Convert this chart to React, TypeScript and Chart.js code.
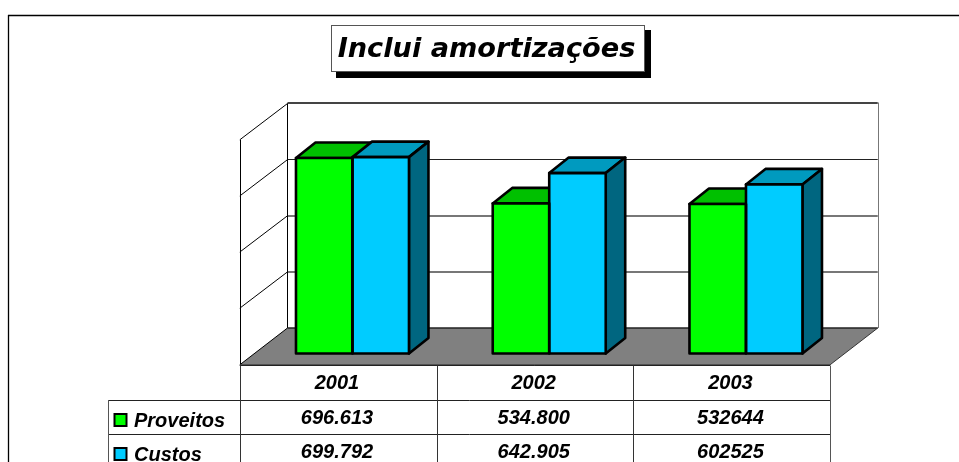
import React, { useEffect, useRef } from "react";
import { Chart, registerables } from "chart.js";

Chart.register(...registerables);

const TITLE = "Inclui amortizações";
const categories = ["2001", "2002", "2003"];
const proveitos = [696613, 534800, 532644];
const custos = [699792, 642905, 602525];
const proveitosLabels = ["696.613", "534.800", "532644"];
const custosLabels = ["699.792", "642.905", "602525"];
const seriesNames = ["Proveitos", "Custos"];

const W = 959;
const H = 462;
const BAR_FRONT = ["#00ff00", "#00ccff"];
const BAR_TOP = ["#00c000", "#009abf"];
const BAR_SIDE = ["#008000", "#006680"];

// 3D projection offsets, in px, relative to the plane the bars stand on
const BACK_DX = 33.4, BACK_DY = -25.5;
const FRONT_DX = -14.3, FRONT_DY = 11.3;
const BAR_DX = 19.5, BAR_DY = -15.5;
const BAR_LINE = 2.6;

const gridStyle: Record<number, [string, number]> = {
  800000: ["#444", 2],
  600000: ["#222", 1],
  400000: ["#777", 2],
  200000: ["#777", 2],
};

const poly = (c: CanvasRenderingContext2D, pts: number[][], fill?: string, stroke?: string, lw = 1) => {
  c.beginPath();
  pts.forEach(([x, y], i) => (i ? c.lineTo(x, y) : c.moveTo(x, y)));
  c.closePath();
  if (fill) { c.fillStyle = fill; c.fill(); }
  if (stroke) { c.strokeStyle = stroke; c.lineWidth = lw; c.stroke(); }
};
const line = (c: CanvasRenderingContext2D, x1: number, y1: number, x2: number, y2: number, col: string, lw = 1) => {
  c.beginPath();
  c.moveTo(x1, y1);
  c.lineTo(x2, y2);
  c.strokeStyle = col;
  c.lineWidth = lw;
  c.stroke();
};

const scenePlugin = {
  id: "scene3d",
  beforeDatasetsDraw(chart: any) {
    const c: CanvasRenderingContext2D = chart.ctx;
    const a = chart.chartArea;
    const ys = chart.scales.y;
    c.save();
    c.lineJoin = "round";
    // frame
    c.fillStyle = "#fff";
    c.fillRect(0, 0, W, H);
    line(c, 8.5, 15, 8.5, H, "#000", 1.3);
    line(c, 8, 15.5, W, 15.5, "#000", 1.4);

    const base = ys.getPixelForValue(0);
    const bl = a.left + BACK_DX, br = a.right + BACK_DX;
    const fl = a.left + FRONT_DX, fr = a.right + FRONT_DX;
    const backY = (v: number) => ys.getPixelForValue(v) + BACK_DY;
    const frontY = (v: number) => ys.getPixelForValue(v) + FRONT_DY;

    // walls & grid
    const top = ys.max;
    ys.ticks.forEach((t: any) => {
      if (t.value === 0) return;
      const [col, lw] = gridStyle[t.value] || ["#555", 1];
      const raw = backY(t.value);
      const yb = lw % 2 ? Math.floor(raw) + 0.5 : Math.round(raw - 0.1);
      line(c, bl, yb, br, yb, col, lw);
      line(c, fl, frontY(t.value) - 0.5, bl, raw, "#000", 1);
    });
    line(c, Math.floor(bl) + 0.5, backY(top), Math.floor(bl) + 0.5, backY(0), "#000");
    line(c, Math.round(br) + 0.5, backY(top) - 1, Math.round(br) + 0.5, backY(0), "#777");
    line(c, Math.round(fl) + 0.5, frontY(top) - 0.5, Math.round(fl) + 0.5, frontY(0), "#000");

    // floor
    poly(c, [[fl, frontY(0)], [fr, frontY(0)], [br, backY(0)], [bl, backY(0)]], "#808080");
    line(c, fl, frontY(0), bl, backY(0), "#000");
    line(c, bl, backY(0), br, backY(0), "#222", 1.5);
    line(c, fl, frontY(0), fr, frontY(0), "#333", 1);
    line(c, fr, frontY(0), br, backY(0), "#333", 1);

    // bar depth faces
    chart.data.datasets.forEach((_: any, d: number) => {
      chart.getDatasetMeta(d).data.forEach((b: any) => {
        const L = b.x - b.width / 2, R = b.x + b.width / 2;
        poly(c, [[L, b.y], [R, b.y], [R + BAR_DX, b.y + BAR_DY], [L + BAR_DX, b.y + BAR_DY]], BAR_TOP[d], "#000", BAR_LINE);
        if (d === chart.data.datasets.length - 1) {
          poly(c, [[R, b.y], [R + BAR_DX, b.y + BAR_DY], [R + BAR_DX, base + BAR_DY], [R, base]], BAR_SIDE[d], "#000", BAR_LINE);
        }
      });
    });
    c.restore();
  },
  afterDatasetsDraw(chart: any) {
    const c: CanvasRenderingContext2D = chart.ctx;
    const base = chart.scales.y.getPixelForValue(0);
    c.save();
    c.lineJoin = "round";
    chart.data.datasets.forEach((_: any, d: number) => {
      chart.getDatasetMeta(d).data.forEach((b: any) => {
        const L = b.x - b.width / 2, R = b.x + b.width / 2;
        poly(c, [[L, b.y], [R, b.y], [R, base], [L, base]], undefined, "#000", BAR_LINE);
      });
    });
    c.restore();
  },
  afterDraw(chart: any) {
    const c: CanvasRenderingContext2D = chart.ctx;
    const a = chart.chartArea;
    const xs = chart.scales.x;
    const ys = chart.scales.y;
    c.save();

    // title box
    c.fillStyle = "#000";
    c.fillRect(336, 30, 315, 48);
    c.fillStyle = "#fff";
    c.fillRect(331, 25, 314, 47);
    c.strokeStyle = "#555";
    c.lineWidth = 1;
    c.strokeRect(331.5, 25.5, 313, 46);
    c.fillStyle = "#000";
    c.font = 'italic bold 27.2px "DejaVu Sans"';
    c.textAlign = "center";
    c.textBaseline = "alphabetic";
    c.fillText(TITLE, 486.5, 57);

    // data table
    const tableTop = Math.round(ys.getPixelForValue(0) + FRONT_DY) + 0.5;
    const rowH = 34.5;
    const left = a.left + FRONT_DX;
    const colW = (a.right - a.left) / categories.length;
    const legendLeft = 108.5;
    const rows = [null, proveitosLabels, custosLabels];
    for (let r = 0; r <= rows.length; r++) {
      const y = Math.floor(tableTop + rowH * r) + 0.5;
      line(c, r === 0 ? left : legendLeft, y, left + colW * categories.length, y, "#222");
    }
    categories.forEach((_, i) => {
      const x = Math.round(left + colW * i) + 0.5;
      line(c, x, tableTop, x, H, "#333");
    });
    const xEnd = Math.round(left + colW * categories.length) + 0.5;
    line(c, xEnd, tableTop, xEnd, H, "#555");
    line(c, legendLeft, tableTop + rowH, legendLeft, H, "#555");

    c.font = 'italic bold 20px "Liberation Sans"';
    c.fillStyle = "#000";
    c.textAlign = "center";
    categories.forEach((cat, i) => {
      const cx = xs.getPixelForValue(i) + FRONT_DX - 1.2;
      c.fillText(cat, cx, tableTop + 23);
      c.fillText(proveitosLabels[i], cx, tableTop + 58);
      c.fillText(custosLabels[i], cx, tableTop + 92.5);
    });
    c.textAlign = "left";
    seriesNames.forEach((name, i) => {
      const yTop = tableTop + 48.5 + i * 34;
      poly(c, [[114.5, yTop], [126.5, yTop], [126.5, yTop + 12], [114.5, yTop + 12]], BAR_FRONT[i], "#000", 2);
      c.fillStyle = "#000";
      c.fillText(name, 134, tableTop + 61.5 + i * 34);
    });
    c.restore();
  },
};

export default function App() {
  const ref = useRef<HTMLCanvasElement>(null);
  useEffect(() => {
    document.body.style.margin = "0";
    document.body.style.overflow = "hidden";
    const chart = new Chart(ref.current!, {
      type: "bar",
      data: {
        labels: categories,
        datasets: [
          { label: seriesNames[0], data: proveitos, backgroundColor: BAR_FRONT[0], borderWidth: 0 },
          { label: seriesNames[1], data: custos, backgroundColor: BAR_FRONT[1], borderWidth: 0 },
        ],
      },
      options: {
        responsive: false,
        animation: false,
        layout: { padding: { left: 254.1, right: W - 844.35, top: 129, bottom: H - 353.5 } },
        plugins: { legend: { display: false }, title: { display: false }, tooltip: { enabled: false } },
        scales: {
          x: { display: false },
          y: { display: false, min: 0, max: 800000, ticks: { stepSize: 200000 } },
        },
        datasets: { bar: { categoryPercentage: 0.5743, barPercentage: 1 } },
      },
      plugins: [scenePlugin],
    });
    return () => chart.destroy();
  }, []);
  return <canvas ref={ref} width={W} height={H} style={{ display: "block", width: W, height: H }} />;
}
